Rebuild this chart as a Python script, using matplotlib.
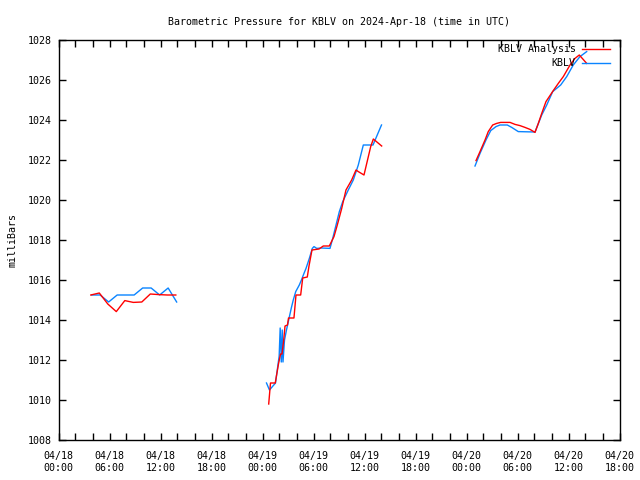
import datetime as dt
import matplotlib
matplotlib.use("Agg")
import matplotlib.pyplot as plt
import matplotlib.dates as mdates

# hours after 2024-04-18 00:00 UTC, pressure in mb
ana_hours = [3.8, 4.8, 5.8, 6.8, 7.8, 8.8, 9.8, 10.8, 11.8, 12.8, 13.8,
             None,
             24.73, 24.94, 25.5, 25.88, 26.12, 26.29, 26.47, 26.65, 26.94, 27.06,
             27.7, 27.94, 28.49, 28.73, 29.27, 29.47, 29.82, 30.65, 31.15, 31.86,
             32.41, 32.8, 33.32, 33.82, 34.49, 35.0, 35.27, 35.94, 36.73, 37.04, 38.02,
             None,
             49.12, 49.59, 50.18, 50.56, 51.08, 51.55, 52.02, 53.12, 53.71, 54.29,
             54.88, 55.47, 56.06, 56.45, 56.85, 57.35, 58.21, 58.8, 59.39, 60.18,
             60.76, 61.27, 62.14]
ana_mb = [1015.25, 1015.35, 1014.8, 1014.42, 1014.97, 1014.88, 1014.9, 1015.3, 1015.27, 1015.25, 1015.25,
          None,
          1009.8, 1010.85, 1010.85, 1011.8, 1012.3, 1012.3, 1012.9, 1013.7, 1013.75, 1014.1,
          1014.1, 1015.25, 1015.25, 1016.1, 1016.15, 1016.7, 1017.5, 1017.55, 1017.7, 1017.7,
          1018.17, 1018.75, 1019.58, 1020.5, 1021.0, 1021.5, 1021.42, 1021.25, 1022.67, 1023.05, 1022.7,
          None,
          1021.97, 1022.42, 1023.0, 1023.42, 1023.75, 1023.83, 1023.88, 1023.88, 1023.78, 1023.72,
          1023.63, 1023.53, 1023.38, 1023.83, 1024.33, 1024.92, 1025.47, 1025.83, 1026.17, 1026.75,
          1027.08, 1027.25, 1026.83]

obs_hours = [3.9, 4.9, 5.9, 6.9, 7.9, 8.9, 9.9, 10.9, 11.9, 12.9, 13.9,
             None,
             24.47, 24.82, 25.53, 25.96, 26.08, 26.21, 26.32, 26.41, 26.59, 26.82,
             27.08, 27.39, 27.62, 27.91, 28.33, 28.61, 28.88, 29.12, 29.51, 29.86,
             30.06, 30.38, 30.96, 31.94, 32.26, 33.04, 33.44, 34.09, 34.68, 35.27,
             35.86, 37.0, 38.0,
             None,
             49.0, 49.59, 50.29, 50.85, 51.47, 51.94, 52.8, 53.32, 54.09, 56.06,
             56.85, 57.44, 58.14, 59.08, 59.79, 60.56, 61.35, 62.14]
obs_mb = [1015.25, 1015.25, 1014.9, 1015.25, 1015.25, 1015.25, 1015.6, 1015.6, 1015.25, 1015.6, 1014.9,
          None,
          1010.85, 1010.5, 1010.85, 1012.2, 1013.6, 1011.9, 1013.5, 1011.9, 1013.0, 1013.5,
          1014.0, 1014.6, 1015.0, 1015.42, 1015.75, 1016.03, 1016.33, 1016.58, 1017.08, 1017.58,
          1017.67, 1017.58, 1017.6, 1017.58, 1018.08, 1019.42, 1019.92, 1020.5, 1021.0, 1021.75,
          1022.75, 1022.75, 1023.75,
          None,
          1021.7, 1022.33, 1023.0, 1023.47, 1023.67, 1023.75, 1023.75, 1023.63, 1023.42, 1023.4,
          1024.25, 1024.75, 1025.42, 1025.75, 1026.17, 1026.75, 1027.17, 1027.42]

start = dt.datetime(2024, 4, 18)


def to_time(hours, vals):
    xs, ys = [], []
    for h, v in zip(hours, vals):
        if h is None:
            xs.append(float("nan"))
            ys.append(float("nan"))
        else:
            xs.append(mdates.date2num(start + dt.timedelta(hours=h)))
            ys.append(v)
    return xs, ys


plt.rcParams["font.family"] = "DejaVu Sans Mono"
plt.rcParams["font.size"] = 7.2
plt.rcParams["axes.titlesize"] = 7.2
plt.rcParams["axes.labelsize"] = 7.2
plt.rcParams["legend.fontsize"] = 7.2

fig = plt.figure(figsize=(6.4, 4.8), dpi=100)
ax = fig.add_axes([58.5 / 640, 40 / 480, 561 / 640, 400 / 480])

x, y = to_time(ana_hours, ana_mb)
ax.plot(x, y, color="#ff0000", lw=1, label="KBLV Analysis", zorder=3)
x, y = to_time(obs_hours, obs_mb)
ax.plot(x, y, color="#0a84ff", lw=1, label="KBLV", zorder=2)

ax.set_xlim(mdates.date2num(start), mdates.date2num(start + dt.timedelta(hours=66)))
ax.set_ylim(1008, 1028)
ax.set_yticks(range(1008, 1029, 2))
ax.xaxis.set_major_locator(mdates.HourLocator(byhour=range(0, 24, 6)))
ax.xaxis.set_major_formatter(mdates.DateFormatter("%m/%d\n%H:%M"))
ax.xaxis.set_minor_locator(mdates.HourLocator(byhour=range(0, 24, 2)))
ax.tick_params(which="both", direction="in", top=True, right=True, length=5, width=1)
ax.tick_params(axis="x", pad=8)
ax.tick_params(axis="y", pad=5)
for s in ax.spines.values():
    s.set_linewidth(1)

ax.set_ylabel("milliBars", labelpad=7)
ax.set_title("Barometric Pressure for KBLV on 2024-Apr-18 (time in UTC)", pad=11)
ax.legend(loc="upper right", bbox_to_anchor=(1.0, 1.014), frameon=False,
          markerfirst=False, handlelength=2.8, labelspacing=0.4,
          borderaxespad=0.6, handletextpad=0.6)

fig.savefig("out.png", dpi=100)
